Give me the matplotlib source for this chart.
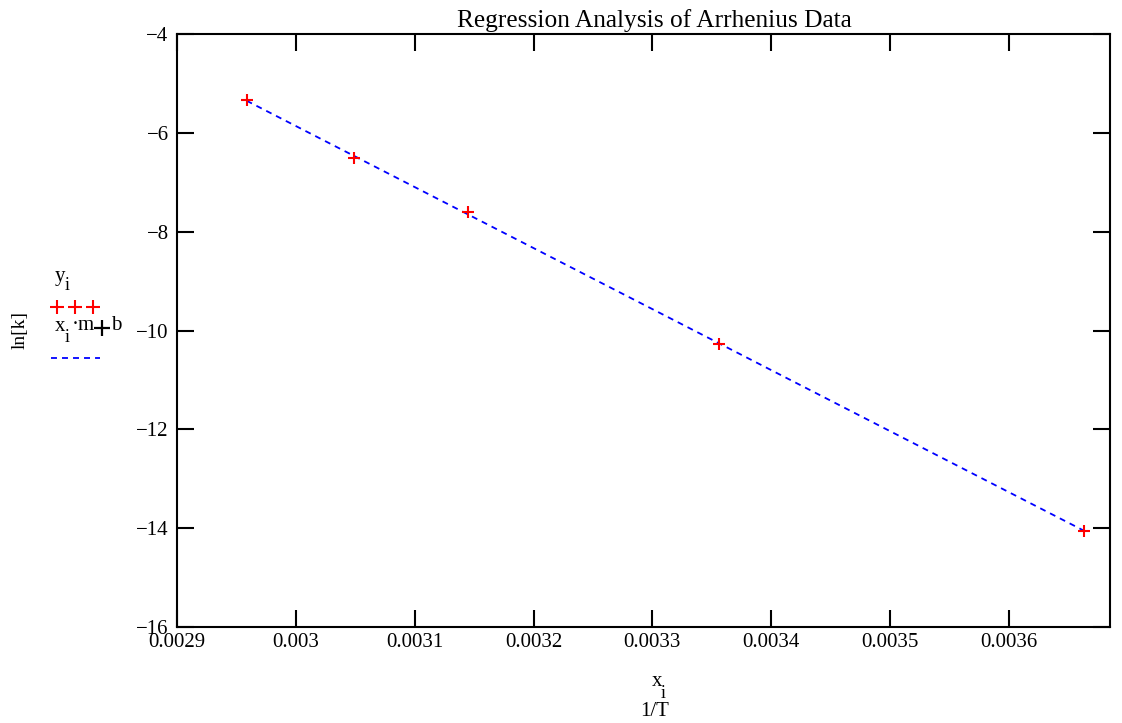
import numpy as np
import matplotlib
matplotlib.use('Agg')
import matplotlib.pyplot as plt
from matplotlib.lines import Line2D

plt.rcParams['font.family'] = ['Liberation Serif', 'DejaVu Serif']

# Arrhenius data: temperatures (K) and measured ln k
T = np.array([338, 328, 318, 298, 273])
ln_k = np.array([-5.345, -6.505, -7.60, -10.27, -14.05])
x = 1.0 / T
y = ln_k

# linear regression
m, b = np.polyfit(x, y, 1)
x_fit = np.array([x.min(), x.max()])
y_fit = x_fit * m + b

x_ticks = [0.0029, 0.003, 0.0031, 0.0032, 0.0033, 0.0034, 0.0035, 0.0036]
x_ticklabels = ['0.0029', '0.003', '0.0031', '0.0032', '0.0033', '0.0034', '0.0035', '0.0036']
y_ticks = [-16, -14, -12, -10, -8, -6, -4]

W, H = 1122, 723
fig = plt.figure(figsize=(W / 100, H / 100), dpi=100)
ax = fig.add_axes([177 / W, 1 - 627 / H, (1110 - 177) / W, (627 - 34) / H])

ax.plot(x_fit, y_fit, color='#0000ff', lw=1.3, dashes=(3.3, 2.8))
ax.plot(x, y, linestyle='none', marker='+', color='#ff0000', markersize=9, markeredgewidth=1.5)

ax.set_xlim(0.0029, 0.003685)
ax.set_ylim(-16, -4)
ax.set_xticks(x_ticks)
ax.set_xticklabels(x_ticklabels)
ax.set_yticks(y_ticks)
ax.tick_params(direction='in', length=12, width=1.5, top=True, right=True,
               labelsize=15, pad=4)
ax.tick_params(axis='y', pad=6)
for sp in ax.spines.values():
    sp.set_linewidth(1.5)


def px(xp, yp):
    return xp / W, 1 - yp / H


# title and axis labels
fig.text(*px(654, 21), 'Regression Analysis of Arrhenius Data',
         ha='center', va='center', fontsize=18.3)
fig.text(*px(657, 682), 'x', ha='center', va='center', fontsize=15)
fig.text(*px(663, 693), 'i', ha='center', va='center', fontsize=13)
fig.text(*px(655, 711), '1/T', ha='center', va='center', fontsize=15)
fig.text(*px(20, 330), 'ln[k]', ha='center', va='center', rotation=90, fontsize=14)

# legend on the left
fig.text(*px(55, 276), 'y', ha='left', va='center', fontsize=15)
fig.text(*px(65, 286), 'i', ha='left', va='center', fontsize=13)
fig.add_artist(Line2D([57 / W, 75 / W, 93 / W], [1 - 307 / H] * 3, linestyle='none',
                      marker='+', color='#ff0000', markersize=10, markeredgewidth=1.5))
fig.text(*px(55, 327), 'x', ha='left', va='center', fontsize=15)
fig.text(*px(65, 338), 'i', ha='left', va='center', fontsize=13)
fig.text(*px(72, 326), '\u00b7m', ha='left', va='center', fontsize=15)
fig.add_artist(Line2D([102 / W], [1 - 328 / H], linestyle='none', marker='+',
                      color='black', markersize=12, markeredgewidth=1.6))
fig.text(*px(111, 326), 'b', ha='left', va='center', fontsize=15)
fig.add_artist(Line2D([51 / W, 100 / W], [1 - 358 / H] * 2, color='#0000ff',
                      lw=1.3, dashes=(3.3, 2.8)))

fig.savefig('out.png', dpi=100)
